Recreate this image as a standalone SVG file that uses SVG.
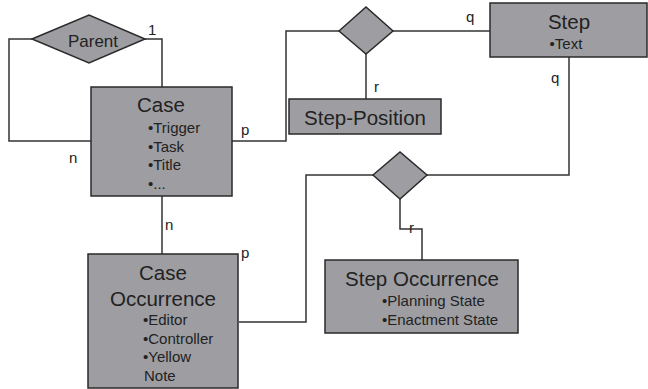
<svg xmlns="http://www.w3.org/2000/svg" width="648" height="389" viewBox="0 0 648 389">
<style>
.box{fill:#9e9ea2;stroke:#2a2a2a;stroke-width:1.5}
.ln{fill:none;stroke:#333;stroke-width:1.5}
text{font-family:"Liberation Sans",Arial,Helvetica,sans-serif;fill:#222}
.t{font-size:20.5px;text-anchor:middle}
.b{font-size:15px}
.l{font-size:15px}
</style>
<rect width="648" height="389" fill="#fff"/>
<g id="connectors">
<polyline class="ln" points="32,39 9,39 9,141 91,141"/>
<polyline class="ln" points="145,39 162,39 162,87"/>
<polyline class="ln" points="232,141 286,141 286,31 339,31"/>
<polyline class="ln" points="393,31 490,31"/>
<polyline class="ln" points="366,54 366,99"/>
<polyline class="ln" points="569,57 569,175 427,175"/>
<polyline class="ln" points="373,175 306,175 306,322 239,322"/>
<polyline class="ln" points="400,199 400,229 422,229 422,260"/>
<polyline class="ln" points="162,196 162,254"/>
<text class="l" x="148" y="35">1</text>
<text class="l" x="69" y="163">n</text>
<text class="l" x="241" y="135">p</text>
<text class="l" x="466" y="22">q</text>
<text class="l" x="374" y="92">r</text>
<text class="l" x="551" y="83">q</text>
<text class="l" x="409" y="233">r</text>
<text class="l" x="165" y="230">n</text>
<text class="l" x="241" y="258">p</text>
</g>
<g id="parent">
<polygon class="box" points="32,39 89,15 145,39 89,63"/>
<text x="93" y="47" font-size="17" text-anchor="middle">Parent</text>
</g>
<g id="case">
<rect class="box" x="91" y="87" width="141" height="109"/>
<text class="t" x="161" y="112">Case</text>
<text class="b" x="148" y="133">•Trigger</text>
<text class="b" x="148" y="152">•Task</text>
<text class="b" x="148" y="170">•Title</text>
<text class="b" x="148" y="189">•...</text>
</g>
<g id="rel-step-position">
<polygon class="box" points="339,31 366,7 393,31 366,54"/>
</g>
<g id="step">
<rect class="box" x="490" y="3" width="157" height="54"/>
<text class="t" x="569" y="29">Step</text>
<text class="b" x="566" y="49" text-anchor="middle">•Text</text>
</g>
<g id="step-position">
<rect class="box" x="289" y="99" width="152" height="35"/>
<text x="365" y="125" font-size="20.5" text-anchor="middle">Step-Position</text>
</g>
<g id="rel-step-occurrence">
<polygon class="box" points="373,175 400,152 427,175 400,199"/>
</g>
<g id="step-occurrence">
<rect class="box" x="325" y="260" width="193" height="73"/>
<text x="422" y="286" font-size="20.5" text-anchor="middle">Step Occurrence</text>
<text class="b" x="382" y="306">•Planning State</text>
<text class="b" x="382" y="325">•Enactment State</text>
</g>
<g id="case-occurrence">
<rect class="box" x="88" y="254" width="150" height="134"/>
<text class="t" x="163" y="280">Case</text>
<text class="t" x="163" y="306">Occurrence</text>
<text class="b" x="143" y="325">•Editor</text>
<text class="b" x="143" y="344">•Controller</text>
<text class="b" x="143" y="362">•Yellow</text>
<text class="b" x="144" y="381">Note</text>
</g>
</svg>
